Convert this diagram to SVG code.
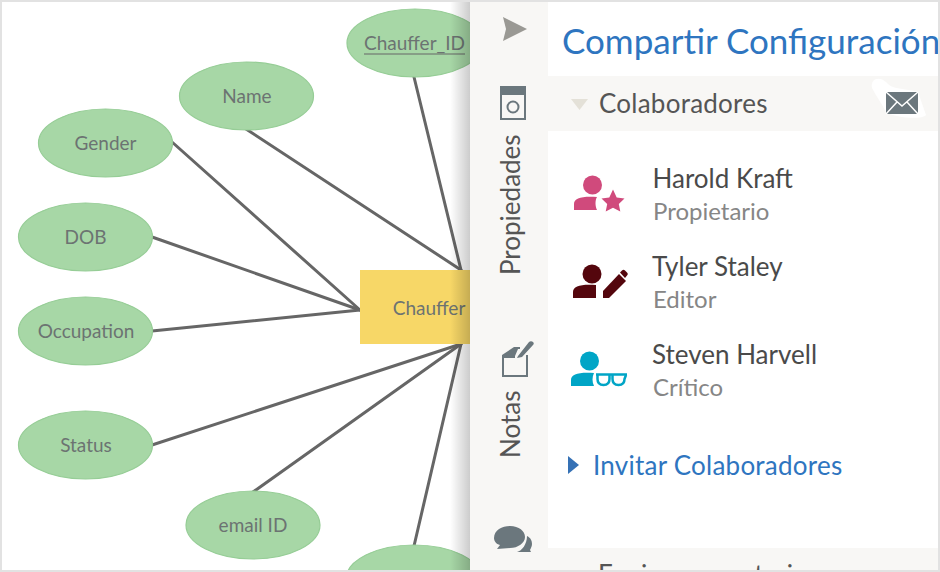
<svg xmlns="http://www.w3.org/2000/svg" width="940" height="572" viewBox="0 0 940 572">
<style>
text{font-family:Lato,"Liberation Sans",sans-serif}
.attr ellipse{fill:#a7d7a6;stroke:#96cd96;stroke-width:1.2}
.attr text,.ent text{font-size:19px;fill:#6c7372;text-anchor:middle}
.conn line{stroke:#666;stroke-width:3;stroke-linecap:round}
.name{font-size:26px;fill:#4a4a4a}
.role{font-size:24px;fill:#868686}
.tab{font-size:26px;fill:#555}
.wide{font-size:26px;letter-spacing:.24px}
.ic{fill:#6b777d}
</style>
<defs>
<linearGradient id="sh" x1="0" x2="1" y1="0" y2="0"><stop offset="0" stop-color="#000" stop-opacity="0"/><stop offset="1" stop-color="#000" stop-opacity=".2"/></linearGradient>
</defs>
<rect width="940" height="572" fill="#fff"/>
<g id="connectors" class="conn">
<line x1="172" y1="142" x2="360" y2="310"/>
<line x1="152" y1="237" x2="360" y2="310"/>
<line x1="152" y1="331" x2="360" y2="310"/>
<line x1="246" y1="129" x2="461" y2="270"/>
<line x1="414" y1="77" x2="461" y2="270"/>
<line x1="152" y1="445" x2="461" y2="344"/>
<line x1="253" y1="492" x2="461" y2="344"/>
<line x1="414" y1="546" x2="461" y2="344"/>
</g>
<g id="n-id" class="attr"><ellipse cx="415" cy="43" rx="68" ry="34"/><text x="414.500" y="49.500">Chauffer_ID</text><line x1="364" y1="54" x2="465" y2="54" stroke="#666" stroke-width="1.2"/></g>
<g id="n-name" class="attr"><ellipse cx="246.500" cy="96" rx="67" ry="34"/><text x="247" y="103">Name</text></g>
<g id="n-gender" class="attr"><ellipse cx="105.500" cy="143" rx="67" ry="34"/><text x="105.500" y="150">Gender</text></g>
<g id="n-dob" class="attr"><ellipse cx="85.500" cy="237" rx="67" ry="34"/><text x="85.500" y="244">DOB</text></g>
<g id="n-occupation" class="attr"><ellipse cx="85.500" cy="331" rx="67" ry="34"/><text x="86" y="338">Occupation</text></g>
<g id="n-status" class="attr"><ellipse cx="85.500" cy="445" rx="67" ry="34"/><text x="86" y="452">Status</text></g>
<g id="n-email" class="attr"><ellipse cx="253" cy="525" rx="67" ry="34"/><text x="253" y="532">email ID</text></g>
<g id="n-bottom" class="attr"><ellipse cx="414" cy="579" rx="68" ry="34"/></g>
<g id="n-chauffer" class="ent"><rect x="360" y="270" width="112" height="74" fill="#f7d767"/><text x="429" y="314.500">Chauffer</text></g>
<rect x="450" y="0" width="20" height="572" fill="url(#sh)"/>
<rect x="470" y="0" width="78" height="572" fill="#f8f7f5"/>
<g id="sidebar">
<path d="M503 17L527 29L503 41L506 29Z" fill="#9a9994"/>
<rect x="501" y="87" width="24" height="32" fill="none" stroke="#6b777d" stroke-width="2"/><rect x="500" y="86" width="26" height="9" class="ic"/><circle cx="513" cy="107" r="5.500" fill="none" stroke="#6b777d" stroke-width="2"/>
<text class="tab" transform="translate(520 275) rotate(-90)">Propiedades</text>
<path d="M503 356V376H527V355" fill="none" stroke="#6b777d" stroke-width="2"/>
<path d="M502 355L514 347H520V349H518L515 356V358H502Z" class="ic"/>
<path d="M518 356L529 342C530 341 532 341 533 342C534 343 534 344 533 345L522 357L517 358Z" class="ic"/>
<text class="tab" transform="translate(520 458) rotate(-90)">Notas</text>
<path d="M494 538C494 530 502 526 510 526C519 526 525 531 525 537C525 543 518 548 510 548L497 549L500 545C496 544 494 541 494 538Z" class="ic"/>
<path d="M527 536C531 538 532 541 532 544C532 546 531 548 530 550L531 552H517C522 551 527 544 527 536Z" class="ic"/>
</g>
<g id="title"><text x="562" y="54" font-size="35" fill="#2e75c0">Compartir Configuración</text></g>
<g id="colaboradores">
<rect x="548" y="76" width="390" height="55" fill="#f8f7f5"/>
<path d="M571 99H588L579.500 110Z" fill="#e4e1d8"/>
<text class="wide" x="599" y="112.500" fill="#555">Colaboradores</text>
<path d="M872 88C870 78 880 76 886 82C892 90 905 88 918 92L926 115C922 120 895 118 886 112C882 104 876 96 872 88Z" fill="#fff"/>
<rect x="886" y="92" width="32" height="22" class="ic"/>
<path d="M886 92L902 106L918 92M886 114L897 102M918 114L907 102" fill="none" stroke="#fff" stroke-width="1.500"/>
</g>
<g id="harold">
<circle cx="592.500" cy="185" r="9.500" fill="#d04a7c"/><path d="M574 210V204C574 198 582 196 597 197C595 200 595 206 597 210Z" fill="#d04a7c"/>
<path d="M613 189.500L616.700 197.500L624.500 198.500L618.800 204L620.300 211.500L613 207.700L605.700 211.500L607.200 204L601.500 198.500L609.300 197.500Z" fill="#d04a7c"/>
<text class="name" x="652.500" y="188">Harold Kraft</text><text class="role" x="653" y="220">Propietario</text>
</g>
<g id="tyler">
<circle cx="592" cy="274" r="9.500" fill="#54060d"/><path d="M573 298V292C573 286 581 284 596 285V298Z" fill="#54060d"/>
<path d="M603 298V291L619 274L626 281L609 298Z" fill="#54060d"/><path d="M620 272.500L622 270.500C623 269.500 624 269.500 625 270.500L627 272.500C628 273.500 628 274.500 627 275.500L625 278Z" fill="#54060d"/>
<text class="name" x="652" y="276">Tyler Staley</text><text class="role" x="653" y="308">Editor</text>
</g>
<g id="steven">
<circle cx="589.500" cy="361" r="9.500" fill="#00a5c6"/><path d="M571 386V380C571 374 579 372 594 373C592 377 592 382 594 386Z" fill="#00a5c6"/>
<path d="M596 374.500H627" stroke="#00a5c6" stroke-width="2.500"/>
<path d="M597.500 375V379C597.500 383 600 385 603.500 385C607 385 609.500 383 609.500 379V375M612.500 375V379C612.500 383 615 385 618.500 385C622 385 624.500 383 624.500 379L626 375" fill="none" stroke="#00a5c6" stroke-width="2.500"/>
<text class="name" x="652" y="364">Steven Harvell</text><text class="role" x="653" y="396">Crítico</text>
</g>
<g id="invitar">
<path d="M568 456L579 465L568 474Z" fill="#3571b5"/>
<text class="wide" x="593" y="474.500" fill="#2e75c0">Invitar Colaboradores</text>
</g>
<g id="enviar">
<rect x="548" y="548" width="390" height="24" fill="#f8f7f5"/>
<text class="wide" x="598" y="584" fill="#555">Enviar comentarios</text>
</g>
<rect x="1" y="1" width="938" height="570" fill="none" stroke="#e2e2e2" stroke-width="2"/>
</svg>
